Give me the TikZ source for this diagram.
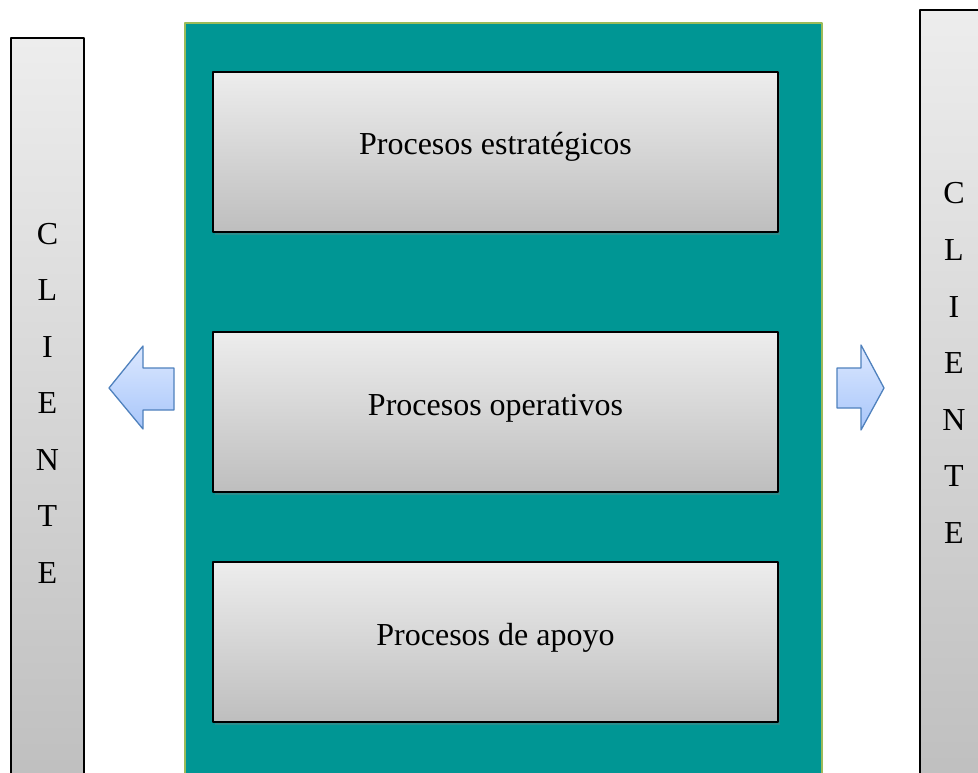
\documentclass[tikz,border=0pt]{standalone}
\usepackage{fontspec}
\setmainfont{Liberation Serif}
\usetikzlibrary{shadows}
\definecolor{panelteal}{RGB}{0,150,148}
\definecolor{panelgreen}{RGB}{155,187,89}
\definecolor{boxtop}{RGB}{237,237,237}
\definecolor{boxbot}{RGB}{190,190,190}
\definecolor{arrtop}{RGB}{220,232,255}
\definecolor{arrbot}{RGB}{168,198,250}
\definecolor{arrline}{RGB}{79,129,189}
\tikzset{
  proc/.style={draw=black, line width=1.3pt, top color=boxtop, bottom color=boxbot,
    minimum width=565pt, minimum height=160pt, text height=22pt, text depth=16pt,
    drop shadow={shadow xshift=2pt, shadow yshift=-3pt, opacity=.35}},
  clibar/.style={draw=black, line width=1.5pt, top color=boxtop, bottom color=boxbot},
  flecha/.style={draw=arrline, line width=1.3pt, top color=arrtop, bottom color=arrbot},
  letra/.style={anchor=base, inner sep=0pt}
}
\begin{document}
\begin{tikzpicture}[x=1pt, y=-1pt, font=\fontsize{32}{38}\selectfont, line join=round]
	\useasboundingbox (0,0) rectangle (978,773);
	\clip (0,0) rectangle (978,773);
	% panel central
	\fill[panelteal, draw=panelgreen, line width=1.6pt] (185,23) rectangle (822,800);
	\node[proc] (est) at (495.5,152) {Procesos estratégicos};
	\node[proc] (ope) at (495.5,412) {Procesos operativos};
	\node[proc] (apo) at (495.5,642) {Procesos de apoyo};
	% barras cliente
	\draw[clibar] (11,38) rectangle (84,800);
	\draw[clibar] (920,10) rectangle (990,800);
	\foreach \l [count=\i from 0] in {C,L,I,E,N,T,E}
	{
		\node[letra] (cliL\i) at (47.5,244+56.5*\i) {\l};
		\node[letra] (cliR\i) at (954,204+56.5*\i) {\l};
	}
	% flechas
	\draw[flecha] (109,388)--(143,346)--(143,368)--(174,368)--(174,410)--(143,410)--(143,429)--cycle;
	\draw[flecha] (884,388)--(861,345)--(861,368)--(837,368)--(837,408)--(861,408)--(861,430)--cycle;
\end{tikzpicture}
\end{document}
